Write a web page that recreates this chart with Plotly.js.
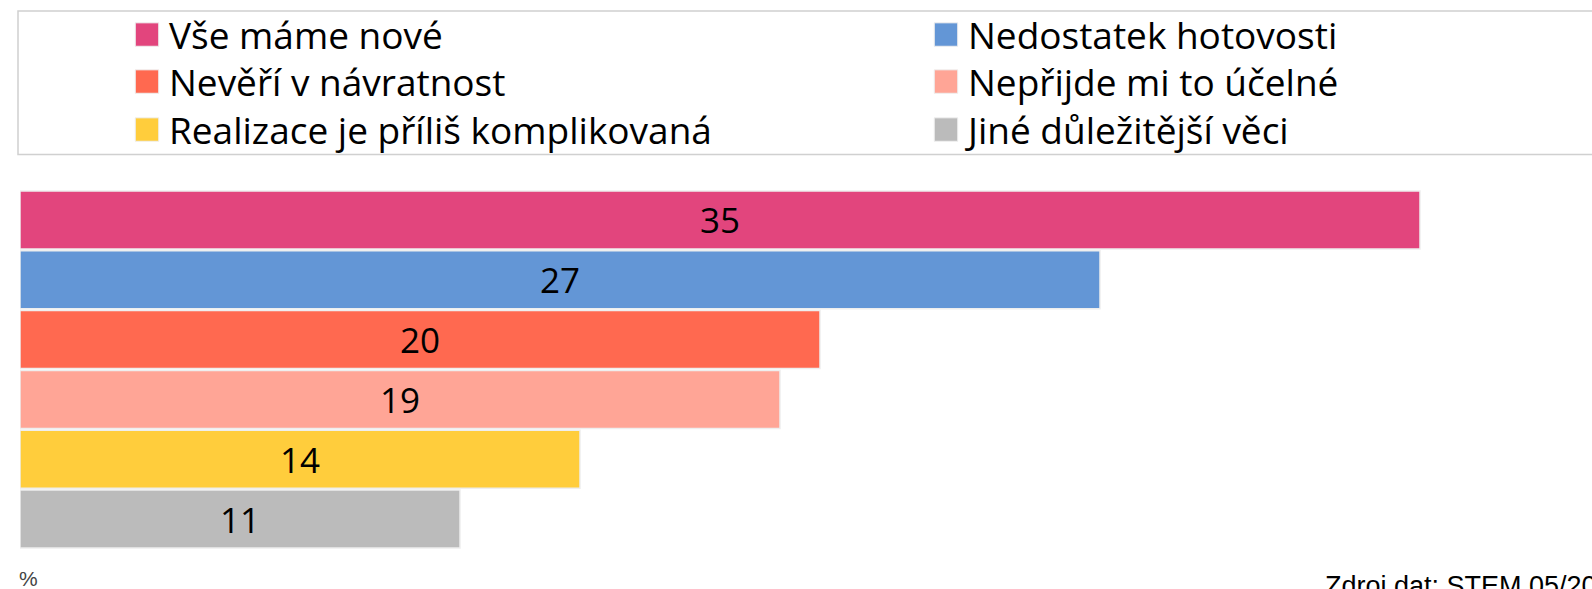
<!DOCTYPE html>
<html>
<head>
<meta charset="utf-8">
<script src="https://cdn.plot.ly/plotly-3.0.1.min.js"></script>
<style>
html,body{margin:0;padding:0;background:#fff;}
#chart{width:1592px;height:589px;}
</style>
</head>
<body>
<div id="chart"></div>
<script>
// Data
const categories = ["Vše máme nové", "Nedostatek hotovosti", "Nevěří v návratnost", "Nepřijde mi to účelné", "Realizace je příliš komplikovaná", "Jiné důležitější věci"];
const values = [35, 27, 20, 19, 14, 11];
const colors = ["#E2457D", "#6396D6", "#FF6950", "#FFA596", "#FFCD3C", "#BBBBBB"];
const unitLabel = "%";
const sourceLabel = "Zdroj dat: STEM 05/20";

const W = 1592, H = 589;
const mL = 20, mR = 12, mT = 190, mB = 40;
const plotW = W - mL - mR, plotH = H - mT - mB;
const px2x = p => (p - mL) / plotW;
const py2y = p => (H - mB - p) / plotH;

const FONT = "'Open Sans', Lato, 'Liberation Sans', Arial, sans-serif";

// legend grid: two columns, three rows (positions only)
const legCols = [145, 944];
const legRows = [35, 82, 130];
const legendIds = categories.map((c, i) => i === 0 ? "legend" : "legend" + (i + 1));

const traces = categories.map((c, i) => ({
  type: "bar",
  orientation: "h",
  name: c,
  y: [c],
  x: [values[i]],
  legend: legendIds[i],
  marker: {color: colors[i], line: {color: "#EEEEEE", width: 1.5}},
  text: [String(values[i])],
  textposition: "inside",
  insidetextanchor: "middle",
  textangle: 0,
  constraintext: "none",
  textfont: {family: FONT, size: 35, color: "#000"},
  hoverinfo: "skip"
}));

const layout = {
  width: W, height: H,
  margin: {l: mL, r: mR, t: mT, b: mB, pad: 0, autoexpand: false},
  paper_bgcolor: "#fff", plot_bgcolor: "#fff",
  barmode: "relative",
  bargap: 0.03,
  showlegend: true,
  xaxis: {range: [0, 39], visible: false, fixedrange: true},
  yaxis: {type: "category", autorange: "reversed", visible: false, fixedrange: true},
  shapes: [{
    type: "rect", xref: "paper", yref: "paper",
    x0: px2x(18), x1: px2x(1620), y0: py2y(154.5), y1: py2y(11),
    line: {color: "#D0D0D0", width: 1.5}, fillcolor: "rgba(0,0,0,0)", layer: "below"
  }],
  annotations: [
    {text: unitLabel, xref: "paper", yref: "paper", x: px2x(17), y: py2y(578), xanchor: "left", yanchor: "middle",
     showarrow: false, font: {family: "'Liberation Sans', Arial, sans-serif", size: 21, color: "#444"}},
    {text: sourceLabel, xref: "paper", yref: "paper", x: px2x(1323), y: py2y(586), xanchor: "left", yanchor: "middle",
     showarrow: false, font: {family: "'Liberation Sans', Arial, sans-serif", size: 27, color: "#000"}}
  ]
};

categories.forEach((c, i) => {
  const col = i % 2, row = Math.floor(i / 2);
  layout[legendIds[i]] = {
    xref: "container", yref: "container",
    x: (legCols[col] - 20) / W, y: 1 - legRows[row] / H,
    xanchor: "left", yanchor: "middle",
    orientation: "v",
    itemwidth: 34,
    font: {family: FONT, size: 37, color: "#000"},
    bgcolor: "rgba(0,0,0,0)", borderwidth: 0
  };
});

Plotly.newPlot("chart", traces, layout, {displayModeBar: false, staticPlot: true}).then(gd => {
  gd.querySelectorAll(".legendpoints path").forEach(p => {
    const t = p.getAttribute("transform") || "";
    p.setAttribute("transform", t + " scale(1.95)");
    p.style.strokeWidth = "0.5px";
  });
});
</script>
</body>
</html>
